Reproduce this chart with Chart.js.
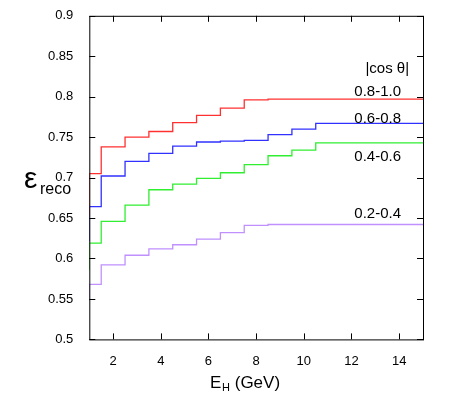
<!DOCTYPE html>
<html>
<head>
<meta charset="utf-8">
<script src="https://cdn.jsdelivr.net/npm/chart.js@4"></script>
<style>body{margin:0;background:#fff}</style>
</head>
<body>
<canvas id="c" width="450" height="420"></canvas>
<script>
// bin low edges (GeV); last step runs to 15
const binEdges = [1, 1.5, 2.5, 3.5, 4.5, 5.5, 6.5, 7.5, 8.5, 9.5, 10.5, 11.5, 12.5, 13.5, 14.5, 15];
const eff08 = [0.654, 0.705, 0.738, 0.750, 0.757, 0.768, 0.777, 0.786, 0.796, 0.797, 0.797, 0.797, 0.797, 0.797, 0.797, 0.797];
const eff06 = [0.621, 0.664, 0.702, 0.720, 0.730, 0.739, 0.744, 0.745, 0.746, 0.753, 0.760, 0.767, 0.767, 0.767, 0.767, 0.767];
const eff04 = [0.586, 0.619, 0.646, 0.666, 0.685, 0.692, 0.699, 0.706, 0.716, 0.727, 0.734, 0.743, 0.743, 0.743, 0.743, 0.743];
const eff02 = [0.548, 0.568, 0.592, 0.604, 0.612, 0.617, 0.624, 0.632, 0.641, 0.642, 0.642, 0.642, 0.642, 0.642, 0.642, 0.642];
const seriesLabels = ['0.8-1.0', '0.6-0.8', '0.4-0.6', '0.2-0.4'];
const colors = ['#ff3030', '#3030ff', '#30ee30', '#c090ff'];
const labelPos = [[13.1, 0.806], [13.1, 0.773], [13.1, 0.726], [13.1, 0.655]];

function pts(vals) {
  return binEdges.map((x, i) => ({ x, y: vals[i] }));
}

const font = '"Liberation Sans", Arial, sans-serif';

const decor = {
  id: 'decor',
  afterDraw(chart) {
    const { ctx, chartArea: a, scales: { x, y } } = chart;
    ctx.save();
    ctx.strokeStyle = '#000';
    ctx.lineWidth = 1;
    ctx.beginPath();
    for (let v = 0.5; v <= 0.9001; v += 0.05) {
      const py = Math.round(y.getPixelForValue(v)) + 0.5;
      ctx.moveTo(a.left, py); ctx.lineTo(a.left + 6, py);
      ctx.moveTo(a.right, py); ctx.lineTo(a.right - 6, py);
    }
    for (let v = 2; v <= 14; v += 2) {
      const px = Math.round(x.getPixelForValue(v)) + 0.5;
      ctx.moveTo(px, a.bottom); ctx.lineTo(px, a.bottom - 6);
      ctx.moveTo(px, a.top); ctx.lineTo(px, a.top + 6);
    }
    ctx.stroke();
    ctx.strokeRect(a.left + 0.5, a.top + 0.5, a.right - a.left, a.bottom - a.top);

    ctx.fillStyle = '#000';
    ctx.textAlign = 'center';
    ctx.textBaseline = 'middle';
    ctx.font = '15px ' + font;
    ctx.fillText('|cos θ|', x.getPixelForValue(13.5), y.getPixelForValue(0.834));
    seriesLabels.forEach((l, i) => {
      ctx.fillText(l, x.getPixelForValue(labelPos[i][0]), y.getPixelForValue(labelPos[i][1]));
    });

    // axis titles
    ctx.textAlign = 'left';
    ctx.font = '17px ' + font;
    ctx.fillText('E', 210, 383);
    ctx.font = '11px ' + font;
    ctx.fillText('H', 222, 388);
    ctx.font = '17px ' + font;
    ctx.fillText(' (GeV)', 230, 383);
    ctx.font = '30px ' + font;
    ctx.fillText('ε', 24, 180);
    ctx.font = '16px ' + font;
    ctx.fillText('reco', 40, 190);
    ctx.restore();
  }
};

new Chart(document.getElementById('c'), {
  type: 'line',
  data: {
    datasets: [eff08, eff06, eff04, eff02].map((v, i) => ({
      label: seriesLabels[i],
      data: pts(v),
      stepped: 'after',
      borderColor: colors[i],
      borderWidth: 1.3,
      pointRadius: 0,
      fill: false
    }))
  },
  options: {
    responsive: false,
    animation: false,
    layout: { padding: { top: 15, right: 27, left: 40, bottom: 45 } },
    plugins: { legend: { display: false }, tooltip: { enabled: false } },
    scales: {
      x: {
        type: 'linear', min: 1, max: 15,
        grid: { display: false }, border: { display: false },
        ticks: {
          stepSize: 1, autoSkip: false, maxRotation: 0,
          color: '#000', font: { family: font, size: 13 }, padding: 6,
          callback: v => (v % 2 === 0 ? v : '')
        }
      },
      y: {
        min: 0.5, max: 0.9,
        grid: { display: false }, border: { display: false },
        ticks: {
          stepSize: 0.05, color: '#000', font: { family: font, size: 13 }, padding: 8,
          callback: v => +v.toFixed(2)
        }
      }
    }
  },
  plugins: [decor]
});
</script>
</body>
</html>
